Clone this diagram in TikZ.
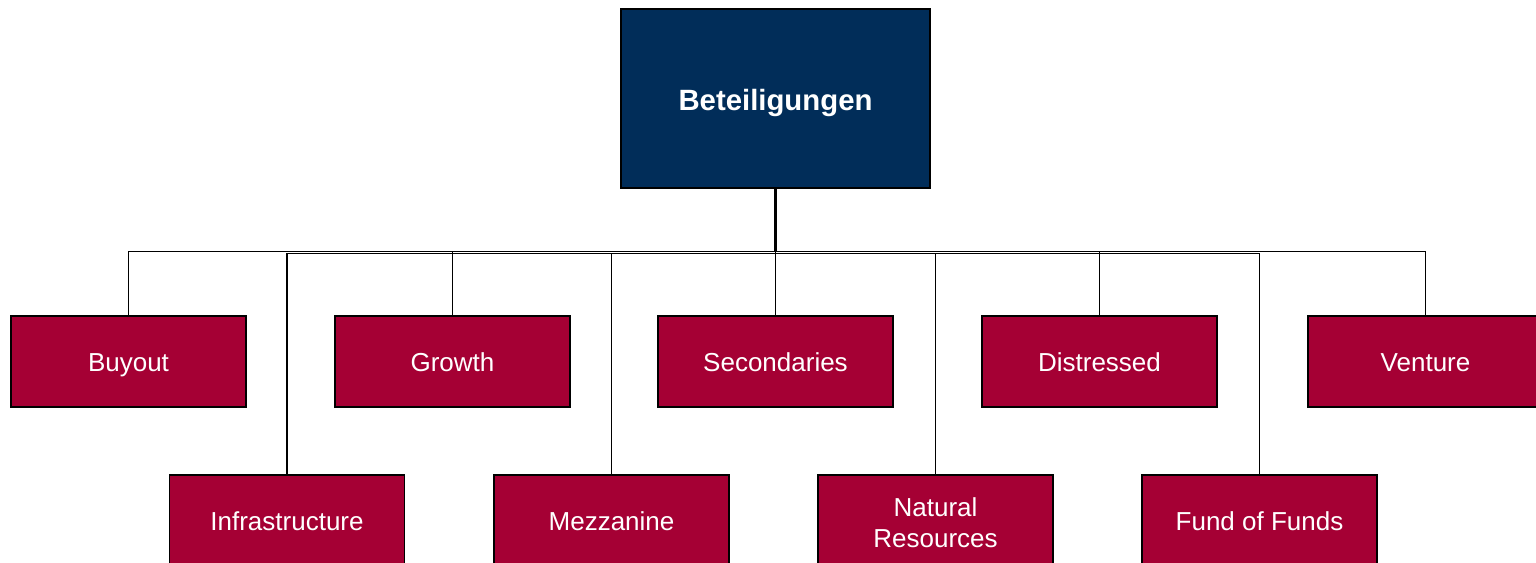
\documentclass[tikz,border=0pt]{standalone}
\usepackage{fontspec}
\setmainfont{Liberation Sans}
\definecolor{navy}{RGB}{1,45,89}
\definecolor{crimson}{RGB}{165,0,52}
\tikzset{
  rootbox/.style={draw=black, line width=1.1pt, fill=navy, text=white,
    minimum width=231.75pt, minimum height=134.25pt, inner sep=0pt,
    text height=18.3pt, text depth=0pt,
    font=\fontsize{22pt}{25pt}\selectfont\bfseries},
  leafbase/.style={draw=black, line width=1.1pt, fill=crimson, text=white,
    minimum width=176.25pt, minimum height=68.25pt, inner sep=0pt, align=center,
    font=\fontsize{19.5pt}{23.3pt}\selectfont},
  leafbox/.style={leafbase, text height=14.6pt, text depth=0pt},
  link/.style={draw=black, line width=0.9pt},
  trunk/.style={draw=black, line width=1.6pt}
}
\begin{document}
\begin{tikzpicture}[x=0.75pt, y=-0.75pt]
\useasboundingbox (0,0) rectangle (1536,563);
\clip (0,0) rectangle (1536,563);
\fill[white] (0,0) rectangle (1536,563);

% root
\node[rootbox] (root) at (775.5,98.5) {Beteiligungen};

% upper row of categories
\node[leafbox] (buyout) at (128.5,361.5) {Buyout};
\node[leafbox] (growth) at (452.5,361.5) {Growth};
\node[leafbox] (second) at (775.5,361.5) {Secondaries};
\node[leafbox] (distress) at (1099.5,361.5) {Distressed};
\node[leafbox] (venture) at (1425.5,361.5) {Venture};

% lower row of categories
\node[leafbox] (infra) at (287,520.5) {Infrastructure};
\node[leafbox] (mezz) at (611.5,520.5) {Mezzanine};
\node[leafbase, text height=40.5pt, text depth=0pt] (natres) at (935.5,520.5) {Natural\\Resources};
\node[leafbox] (fof) at (1259.5,520.5) {Fund of Funds};

% bus lines feeding the two rows
\coordinate (busA) at (775.5,251.8);
\coordinate (busB) at (775.5,253.2);

\foreach \n in {buyout,growth,second,distress,venture}
  \draw[link] (\n.north) |- (busA);
\foreach \n in {infra,mezz,natres,fof}
  \draw[link] (\n.north) |- (busB);

\draw[trunk] (root.south) -- (busA);
\end{tikzpicture}
\end{document}
